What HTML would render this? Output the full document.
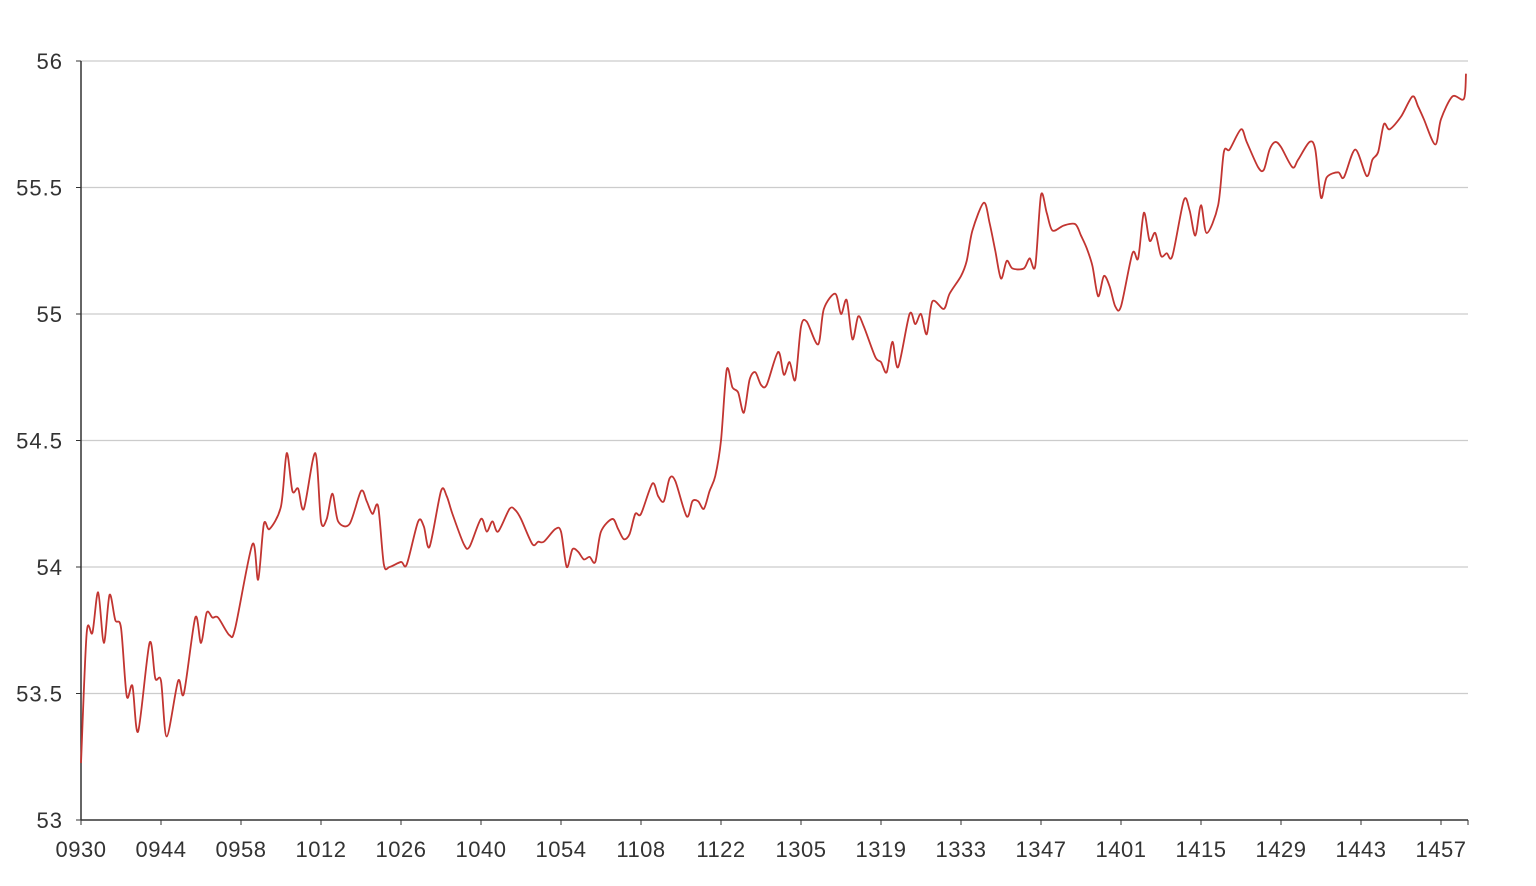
<!DOCTYPE html>
<html><head><meta charset="utf-8"><style>
html,body{margin:0;padding:0;background:#fff;width:1536px;height:886px;overflow:hidden}
svg text{font-family:"Liberation Sans",sans-serif;font-size:22px;fill:#333}
</style></head><body>
<svg id="chart" width="1536" height="886" xmlns="http://www.w3.org/2000/svg">
<g id="grid"></g>
<g id="yaxis"></g>
<g id="xaxis"></g>
<g id="series"></g>
</svg>
<script>
// categories (minutes of trading day)
const categories = [];
for (let m = 570; m <= 690; m++) categories.push(String(Math.floor(m/60)).padStart(2,'0') + String(m%60).padStart(2,'0'));
for (let m = 780; m <= 902; m++) categories.push(String(Math.floor(m/60)).padStart(2,'0') + String(m%60).padStart(2,'0'));
const yTicks = [53, 53.5, 54, 54.5, 55, 55.5, 56];
const yTickLabels = ["53","53.5","54","54.5","55","55.5","56"];
// price points: category index and value
const pointIndex = [0,1,2,3,4,5,6,7,8,9,10,12,13,14,15,17,18,20,21,22,23,24,26,27,30,31,32,33,35,36,37,38,39,41,42,43,44,45,47,49,50,51,52,53,54,56,57,59,60,61,63,64,65,67,68,70,71,72,73,75,76,77,79,80,81,83,84,85,86,87,88,89,90,91,93,94,95,96,97,98,100,101,102,103,104,106,107,108,109,110,111,112,113,114,115,116,117,118,119,120,122,123,124,125,126,127,129,130,132,133,134,135,136,137,139,140,141,142,143,145,146,147,148,149,151,152,154,155,156,158,159,160,161,162,163,165,166,167,168,169,170,172,174,175,176,177,178,179,180,181,182,184,185,186,187,188,189,190,191,193,194,195,196,197,199,200,201,203,204,206,207,208,209,210,212,213,215,216,217,218,220,221,223,225,226,227,228,229,231,233,234,235,237,238,240,242,243];
const pointValue = [53.225,53.74,53.74,53.90,53.70,53.89,53.79,53.76,53.49,53.53,53.35,53.70,53.56,53.55,53.33,53.55,53.50,53.80,53.70,53.82,53.80,53.80,53.73,53.76,54.09,53.95,54.17,54.15,54.24,54.45,54.30,54.31,54.23,54.45,54.18,54.19,54.29,54.18,54.17,54.30,54.26,54.21,54.24,54.01,54.00,54.02,54.01,54.18,54.16,54.08,54.30,54.28,54.21,54.09,54.08,54.19,54.14,54.18,54.14,54.23,54.225,54.19,54.09,54.10,54.10,54.15,54.14,54.00,54.07,54.06,54.03,54.04,54.02,54.14,54.19,54.15,54.11,54.13,54.21,54.21,54.33,54.28,54.26,54.35,54.34,54.20,54.26,54.26,54.23,54.30,54.36,54.50,54.78,54.71,54.69,54.61,54.74,54.77,54.72,54.72,54.85,54.76,54.81,54.74,54.95,54.97,54.88,55.02,55.08,55.00,55.055,54.90,54.99,54.95,54.83,54.81,54.77,54.89,54.79,55.00,54.96,55.00,54.92,55.05,55.02,55.08,55.15,55.21,55.33,55.44,55.36,55.25,55.14,55.21,55.18,55.18,55.22,55.19,55.47,55.40,55.33,55.35,55.355,55.31,55.26,55.19,55.07,55.15,55.11,55.03,55.03,55.24,55.22,55.40,55.29,55.32,55.23,55.24,55.23,55.45,55.41,55.31,55.43,55.32,55.43,55.64,55.65,55.73,55.68,55.58,55.57,55.65,55.68,55.66,55.58,55.61,55.68,55.65,55.46,55.54,55.56,55.54,55.65,55.545,55.61,55.64,55.75,55.73,55.78,55.86,55.82,55.77,55.67,55.77,55.86,55.85,55.95];

const NS = "http://www.w3.org/2000/svg";
const X0 = 81, X1 = 1468, Y0 = 820, Y1 = 61;
const slot = 80 / 14;
const xScale = i => Math.min(X0 + i * slot, 1466);
const yScale = v => Y0 - (v - 53) / 3 * (Y0 - Y1);
function mk(tag, attrs, parent) { const e = document.createElementNS(NS, tag); for (const k in attrs) e.setAttribute(k, attrs[k]); parent.appendChild(e); return e; }

const grid = document.getElementById('grid'), ya = document.getElementById('yaxis'), xa = document.getElementById('xaxis'), ser = document.getElementById('series');
yTicks.forEach((t, k) => {
  const y = yScale(t);
  if (k > 0) {
    const g = mk('line', {x1: X0, x2: X1, y1: y, y2: y, stroke: '#ccc', 'stroke-width': 1.2}, grid);
    
    
  }
  mk('line', {x1: X0 - 5, x2: X0, y1: y, y2: y, stroke: '#333', 'stroke-width': 1}, ya);
  const tx = mk('text', {x: X0 - 18, y: y + 8, 'text-anchor': 'end', 'letter-spacing': '1'}, ya);
  tx.textContent = yTickLabels[k];
  
  
});
mk('line', {x1: X0, x2: X0, y1: Y1, y2: Y0, stroke: '#333', 'stroke-width': 1.5}, ya);
mk('line', {x1: X0, x2: X1, y1: Y0, y2: Y0, stroke: '#333', 'stroke-width': 1.5}, xa);
for (let i = 0; i < categories.length; i += 14) {
  const x = X0 + i * slot;
  mk('line', {x1: x, x2: x, y1: Y0, y2: Y0 + 5, stroke: '#333', 'stroke-width': 1}, xa);
  const tx = mk('text', {x: x, y: Y0 + 37, 'text-anchor': 'middle', 'letter-spacing': '0.5'}, xa);
  tx.textContent = categories[i];
  
  
}
mk('line', {x1: X1, x2: X1, y1: Y0, y2: Y0 + 5, stroke: '#333', 'stroke-width': 1}, xa);

const pts = pointIndex.map((i, k) => [xScale(i), yScale(pointValue[k])]);
let d = `M${pts[0][0]},${pts[0][1]}`;
for (let k = 0; k < pts.length - 1; k++) {
  const p0 = pts[Math.max(0, k - 1)], p1 = pts[k], p2 = pts[k + 1], p3 = pts[Math.min(pts.length - 1, k + 2)];
  const t = 0.3;
  const c1 = [p1[0] + (p2[0] - p0[0]) * t / 2, p1[1] + (p2[1] - p0[1]) * t / 2];
  const c2 = [p2[0] - (p3[0] - p1[0]) * t / 2, p2[1] - (p3[1] - p1[1]) * t / 2];
  d += ` C${c1[0]},${c1[1]} ${c2[0]},${c2[1]} ${p2[0]},${p2[1]}`;
}
const line = mk('path', {d: d, fill: 'none', stroke: '#c23531', 'stroke-width': 1.8, 'stroke-linejoin': 'round'}, ser);


</script>
</body></html>
